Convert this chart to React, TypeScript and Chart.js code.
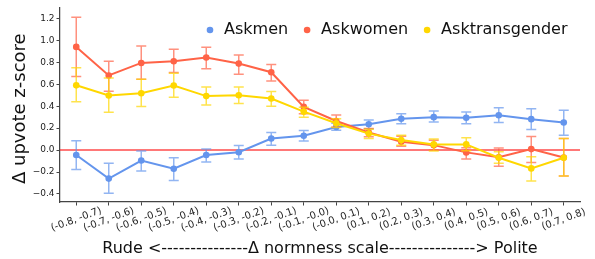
import React, { useEffect, useRef } from 'react';
import { Chart, registerables } from 'chart.js';
Chart.register(...registerables);

const categories = ['(-0.8, -0.7)', '(-0.7, -0.6)', '(-0.6, -0.5)', '(-0.5, -0.4)', '(-0.4, -0.3)', '(-0.3, -0.2)', '(-0.2, -0.1)', '(-0.1, -0.0)', '(-0.0, 0.1)', '(0.1, 0.2)', '(0.2, 0.3)', '(0.3, 0.4)', '(0.4, 0.5)', '(0.5, 0.6)', '(0.6, 0.7)', '(0.7, 0.8)'];
const yTicks = [-0.4, -0.2, 0, 0.2, 0.4, 0.6, 0.8, 1.0, 1.2];

const askmen = [-0.045, -0.26, -0.095, -0.17, -0.045, -0.02, 0.105, 0.13, 0.21, 0.235, 0.285, 0.3, 0.295, 0.318, 0.282, 0.252];
const askmenLo = [-0.176, -0.394, -0.19, -0.276, -0.109, -0.082, 0.045, 0.082, 0.18, 0.194, 0.239, 0.255, 0.239, 0.252, 0.188, 0.136];
const askmenHi = [0.085, -0.121, -0.009, -0.07, 0.009, 0.042, 0.16, 0.179, 0.245, 0.273, 0.33, 0.355, 0.348, 0.385, 0.376, 0.364];

const askwomen = [0.94, 0.68, 0.794, 0.81, 0.843, 0.788, 0.709, 0.394, 0.265, 0.16, 0.076, 0.045, -0.021, -0.065, 0.009, -0.067];
const askwomenLo = [0.67, 0.536, 0.645, 0.706, 0.742, 0.69, 0.63, 0.33, 0.21, 0.121, 0.036, 0.0, -0.082, -0.148, -0.112, -0.236];
const askwomenHi = [1.21, 0.81, 0.948, 0.918, 0.936, 0.866, 0.78, 0.455, 0.32, 0.197, 0.127, 0.09, 0.021, 0.018, 0.124, 0.106];

const asktrans = [0.59, 0.497, 0.518, 0.588, 0.492, 0.5, 0.47, 0.35, 0.245, 0.15, 0.091, 0.052, 0.052, -0.07, -0.167, -0.07];
const asktransLo = [0.44, 0.345, 0.397, 0.482, 0.41, 0.424, 0.4, 0.3, 0.205, 0.106, 0.045, -0.009, -0.006, -0.12, -0.282, -0.236];
const asktransHi = [0.75, 0.657, 0.645, 0.7, 0.575, 0.575, 0.533, 0.39, 0.285, 0.19, 0.136, 0.1, 0.112, -0.015, -0.06, 0.106];

const seriesNames = ['Askmen', 'Askwomen', 'Asktransgender'];
const seriesColors = ['#6495ED', '#FF6347', '#FFD700'];
const errColors = ['rgba(100,149,237,0.7)', 'rgba(255,99,71,0.7)', 'rgba(255,215,0,0.7)'];
const seriesValues = [askmen, askwomen, asktrans];
const seriesLo = [askmenLo, askwomenLo, asktransLo];
const seriesHi = [askmenHi, askwomenHi, asktransHi];

const xTitle = 'Rude <---------------\u0394 normness scale---------------> Polite';
const yTitle = '\u0394 upvote z-score';
const FONT = "'DejaVu Sans', sans-serif";

const zeroLinePlugin = {
  id: 'zeroLine',
  beforeDatasetsDraw(chart: any) {
    const { ctx, chartArea } = chart;
    const y = chart.scales.y.getPixelForValue(0);
    ctx.save();
    ctx.strokeStyle = 'rgba(255,30,30,0.8)';
    ctx.lineWidth = 1.5;
    ctx.beginPath();
    ctx.moveTo(chartArea.left, y);
    ctx.lineTo(chartArea.right, y);
    ctx.stroke();
    ctx.restore();
  },
};

const errorBarPlugin = {
  id: 'errBars',
  beforeDatasetDraw(chart: any, args: any) {
    const i = args.index;
    const lo = seriesLo[i];
    const hi = seriesHi[i];
    const { ctx } = chart;
    const xs = chart.scales.x;
    const ys = chart.scales.y;
    ctx.save();
    ctx.strokeStyle = errColors[i];
    ctx.lineWidth = 1.5;
    for (let k = 0; k < lo.length; k++) {
      const px = xs.getPixelForValue(k);
      const pl = ys.getPixelForValue(lo[k]);
      const ph = ys.getPixelForValue(hi[k]);
      ctx.beginPath();
      ctx.moveTo(px, pl);
      ctx.lineTo(px, ph);
      ctx.moveTo(px - 5, pl);
      ctx.lineTo(px + 5, pl);
      ctx.moveTo(px - 5, ph);
      ctx.lineTo(px + 5, ph);
      ctx.stroke();
    }
    ctx.restore();
  },
};

const textPlugin = {
  id: 'texts',
  afterDraw(chart: any) {
    const { ctx, chartArea } = chart;
    const xs = chart.scales.x;
    ctx.save();
    // x tick labels, rotated and centred on their ticks
    ctx.fillStyle = '#222';
    ctx.font = `10px ${FONT}`;
    ctx.textAlign = 'center';
    ctx.textBaseline = 'middle';
    categories.forEach((lab, k) => {
      const px = xs.getPixelForValue(k);
      ctx.save();
      ctx.translate(px, chartArea.bottom + 17.5);
      ctx.rotate((-20 * Math.PI) / 180);
      ctx.fillText(lab, 0, 0);
      ctx.restore();
    });
    // axis titles
    ctx.fillStyle = '#111';
    ctx.font = `16px ${FONT}`;
    ctx.fillText(xTitle, (chartArea.left + chartArea.right) / 2, 249);
    ctx.save();
    ctx.font = `18px ${FONT}`;
    ctx.translate(20, (chartArea.top + chartArea.bottom) / 2 + 4);
    ctx.rotate(-Math.PI / 2);
    ctx.fillText(yTitle, 0, 0);
    ctx.restore();
    // legend
    ctx.textAlign = 'left';
    let lx = 210;
    const ly = 30;
    seriesNames.forEach((name, k) => {
      ctx.fillStyle = seriesColors[k];
      ctx.beginPath();
      ctx.arc(lx, ly, 3.3, 0, Math.PI * 2);
      ctx.fill();
      ctx.fillStyle = '#111';
      ctx.fillText(name, lx + 14, ly);
      lx = lx + 14 + ctx.measureText(name).width + 19;
    });
    ctx.restore();
  },
};

function fmt(v: number) {
  const s = Math.abs(v).toFixed(1);
  return v < -1e-9 ? '\u2212' + s : s;
}

export default function App() {
  const ref = useRef<HTMLCanvasElement | null>(null);
  useEffect(() => {
    document.body.style.margin = '0';
    const canvas = ref.current;
    if (!canvas) return;
    const chart = new Chart(canvas, {
      type: 'line',
      data: {
        datasets: seriesNames.map((name, k) => ({
          label: name,
          data: seriesValues[k].map((v, i) => ({ x: i, y: v })),
          borderColor: seriesColors[k],
          backgroundColor: seriesColors[k],
          borderWidth: 2,
          pointRadius: 3.3,
          pointBorderWidth: 0,
          tension: 0,
          order: 3 - k,
        })),
      },
      options: {
        animation: false,
        responsive: false,
        devicePixelRatio: 1,
        layout: { padding: { top: 7, right: 15, left: 0, bottom: 0 } },
        plugins: { legend: { display: false }, tooltip: { enabled: false } },
        scales: {
          x: {
            type: 'linear',
            min: -0.5,
            max: 15.5,
            afterBuildTicks: (s: any) => {
              s.ticks = categories.map((_, i) => ({ value: i }));
            },
            afterFit: (s: any) => {
              s.height = 57;
            },
            ticks: { display: false },
            grid: { display: true, drawOnChartArea: false, drawTicks: true, tickLength: 3.5, color: '#444', lineWidth: 1 },
            border: { display: true, color: '#444', width: 1.25 },
          },
          y: {
            type: 'linear',
            min: -0.473,
            max: 1.3,
            afterBuildTicks: (s: any) => {
              s.ticks = yTicks.map((v) => ({ value: v }));
            },
            afterFit: (s: any) => {
              s.width = 60;
            },
            ticks: {
              padding: 2,
              color: '#222',
              font: { family: FONT, size: 9 },
              callback: (v: any) => fmt(Number(v)),
            },
            grid: { display: true, drawOnChartArea: false, drawTicks: true, tickLength: 3.5, color: '#444', lineWidth: 1 },
            border: { display: true, color: '#444', width: 1.25 },
          },
        },
      },
      plugins: [zeroLinePlugin, errorBarPlugin, textPlugin],
    });
    return () => chart.destroy();
  }, []);
  return (
    <div style={{ position: 'fixed', left: 0, top: 0, width: 595, height: 259, background: '#fff' }}>
      <canvas ref={ref} width={595} height={259} />
    </div>
  );
}
